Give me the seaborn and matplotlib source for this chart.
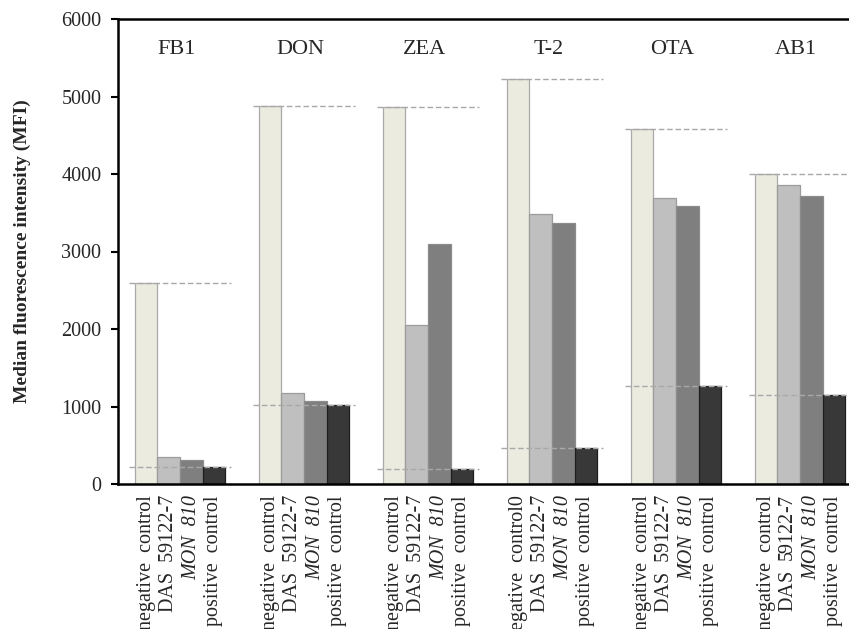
import matplotlib
matplotlib.use("Agg")
import matplotlib.pyplot as plt
import seaborn as sns
import pandas as pd

groups = ["FB1", "DON", "ZEA", "T-2", "OTA", "AB1"]
samples = ["negative control", "DAS 59122-7", "MON 810", "positive control"]
neg_vals = [2600, 4880, 4870, 5230, 4580, 4000]
das_vals = [345, 1170, 2050, 3490, 3690, 3860]
mon_vals = [305, 1070, 3100, 3370, 3590, 3720]
pos_vals = [225, 1015, 190, 460, 1270, 1150]
yticks = [0, 1000, 2000, 3000, 4000, 5000, 6000]

# per-group tick labels (as printed in the original)
neg_labels = ["negative  control"] * 3 + ["negative  control0"] + ["negative  control"] * 2
das_labels = ["DAS  59122-7"] * 5 + [r"DAS  $\mathit{59122}$-$\mathit{7}$"]
mon_labels = ["MON  810"] * 6
pos_labels = ["positive  control"] * 6

face_colors = ["#ebebdf", "#bfbfbf", "#7f7f7f", "#383838"]
edge_colors = ["#aaaaaa", "#9c9c9c", "#8c8c8c", "#1e1e1e"]

sns.set_style("white")
plt.rcParams["font.family"] = ["Liberation Serif", "DejaVu Serif"]
plt.rcParams["mathtext.fontset"] = "custom"
plt.rcParams["mathtext.rm"] = "Liberation Serif"
plt.rcParams["mathtext.it"] = "Liberation Serif:italic"

rows = []
for vals, s in zip([neg_vals, das_vals, mon_vals, pos_vals], samples):
    for g, v in zip(groups, vals):
        rows.append({"group": g, "sample": s, "value": v})
df = pd.DataFrame(rows)

fig = plt.figure(figsize=(8.49, 6.29), dpi=100)
ax = fig.add_axes([118 / 849, 1 - 484 / 629, (849 - 118) / 849, (484 - 19) / 629])

sns.barplot(data=df, x="group", y="value", hue="sample", order=groups,
            hue_order=samples, palette=face_colors, width=0.73,
            saturation=1, legend=False, ax=ax, errorbar=None)

for k, cont in enumerate(ax.containers):
    for bar in cont:
        bar.set_edgecolor(edge_colors[k])
        bar.set_linewidth(0.9)

# dashed reference lines at negative and positive control levels
for i in range(len(groups)):
    for v in (neg_vals[i], pos_vals[i]):
        ax.hlines(v, i - 0.41, i + 0.41, colors="#a8a8a8", linestyles=(0, (4, 2)),
                  linewidth=1.0, zorder=5)

# per-bar tick labels
label_sets = [neg_labels, das_labels, mon_labels, pos_labels]
tick_pos, tick_lab, tick_it = [], [], []
for k, cont in enumerate(ax.containers):
    for j, bar in enumerate(cont):
        tick_pos.append(bar.get_x() + bar.get_width() / 2)
        tick_lab.append(label_sets[k][j])
        tick_it.append(k == 2)
ax.set_xticks(tick_pos)
ax.set_xticklabels(tick_lab, rotation=90, fontsize=14.5, va="top", ha="center")
for t, it in zip(ax.get_xticklabels(), tick_it):
    if it:
        t.set_style("italic")
ax.tick_params(axis="x", length=0, pad=8)

# group titles
trans = matplotlib.transforms.blended_transform_factory(ax.transData, ax.transAxes)
for i, g in enumerate(groups):
    ax.text(i - 0.03, 0.935, g, transform=trans, ha="center", va="center", fontsize=16)

ax.set_xlim(-0.5, 5.395)
ax.set_ylim(0, 6000)
ax.set_yticks(yticks)
ax.set_yticklabels([str(v) for v in yticks], fontsize=14.5)
ax.tick_params(axis="y", direction="out", length=5, width=1.5, pad=7, left=True, color="black")
ax.set_xlabel("")
ax.set_ylabel("Median fluorescence intensity (MFI)", fontsize=14, fontweight="bold", labelpad=22)

for side in ["left", "top", "bottom"]:
    ax.spines[side].set_visible(True)
    ax.spines[side].set_color("black")
    ax.spines[side].set_linewidth(1.8)
ax.spines["right"].set_visible(False)

fig.savefig("out.png", dpi=100)
